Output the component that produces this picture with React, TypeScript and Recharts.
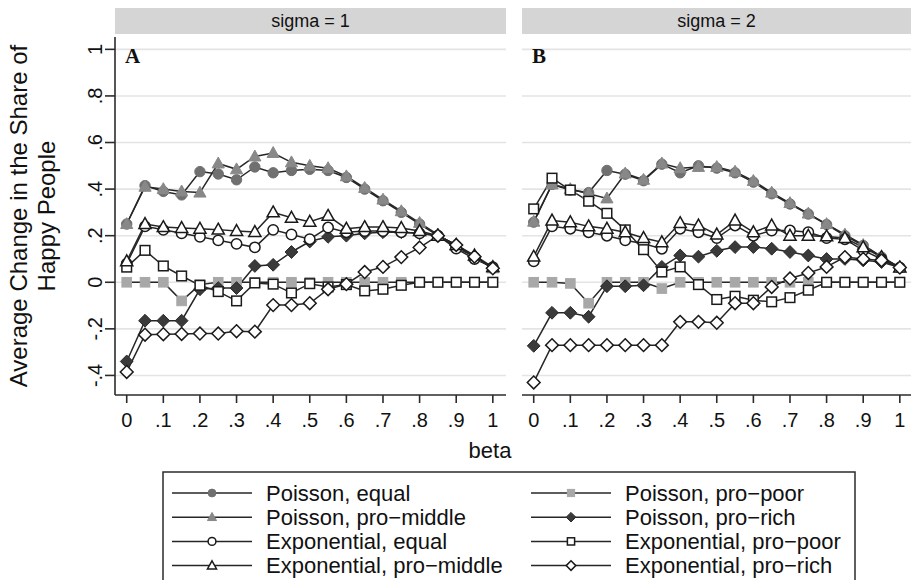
import React from "react";
import {
  LineChart,
  Line,
  XAxis,
  YAxis,
  ReferenceLine,
} from "recharts";

// beta grid, 0 to 1 by .05
const betas = [
  0, 0.05, 0.1, 0.15, 0.2, 0.25, 0.3, 0.35, 0.4, 0.45, 0.5, 0.55, 0.6, 0.65,
  0.7, 0.75, 0.8, 0.85, 0.9, 0.95, 1,
];

const xTicks = [0, 0.1, 0.2, 0.3, 0.4, 0.5, 0.6, 0.7, 0.8, 0.9, 1];
const xTickLabels = ["0", ".1", ".2", ".3", ".4", ".5", ".6", ".7", ".8", ".9", "1"];
const yTicks = [-0.4, -0.2, 0, 0.2, 0.4, 0.6, 0.8, 1];
const yTickLabels = ["-.4", "-.2", "0", ".2", ".4", ".6", ".8", "1"];

// sigma = 1
const poisEqual1 = [0.25, 0.415, 0.39, 0.375, 0.475, 0.465, 0.44, 0.495, 0.47, 0.48, 0.485, 0.48, 0.45, 0.4, 0.35, 0.3, 0.25, 0.2, 0.15, 0.11, 0.06];
const poisPoor1 = [0, 0, 0, -0.08, -0.01, 0, 0, 0, 0, 0, 0, 0, 0, 0, 0, 0, 0, 0, 0, 0, 0];
const poisMid1 = [0.25, 0.41, 0.4, 0.39, 0.385, 0.51, 0.485, 0.54, 0.555, 0.515, 0.5, 0.49, 0.455, 0.405, 0.355, 0.305, 0.255, 0.205, 0.155, 0.11, 0.06];
const poisRich1 = [-0.34, -0.165, -0.165, -0.165, -0.03, -0.025, -0.025, 0.07, 0.075, 0.13, 0.175, 0.195, 0.2, 0.21, 0.215, 0.215, 0.21, 0.2, 0.16, 0.11, 0.06];
const expEqual1 = [0.08, 0.24, 0.225, 0.21, 0.195, 0.18, 0.165, 0.15, 0.225, 0.205, 0.185, 0.235, 0.215, 0.22, 0.22, 0.215, 0.21, 0.2, 0.145, 0.1, 0.065];
const expPoor1 = [0.065, 0.137, 0.07, 0.027, -0.013, -0.04, -0.08, -0.003, -0.008, -0.046, -0.006, -0.02, -0.01, -0.037, -0.03, -0.013, 0, 0, 0, 0, 0];
const expMid1 = [0.09, 0.25, 0.237, 0.233, 0.23, 0.226, 0.22, 0.216, 0.3, 0.277, 0.26, 0.285, 0.23, 0.237, 0.237, 0.233, 0.22, 0.2, 0.16, 0.115, 0.065];
const expRich1 = [-0.385, -0.225, -0.223, -0.222, -0.22, -0.22, -0.21, -0.212, -0.098, -0.098, -0.09, -0.03, -0.008, 0.044, 0.066, 0.108, 0.149, 0.2, 0.16, 0.11, 0.06];

// sigma = 2
const poisEqual2 = [0.258, 0.42, 0.396, 0.385, 0.48, 0.464, 0.436, 0.507, 0.47, 0.5, 0.49, 0.47, 0.43, 0.38, 0.336, 0.293, 0.248, 0.2, 0.158, 0.108, 0.063];
const poisPoor2 = [0, 0, -0.005, -0.09, 0, 0, 0, -0.027, 0, 0, 0, 0, 0, 0, 0, 0, 0, 0, 0, 0, 0];
const poisMid2 = [0.26, 0.42, 0.4, 0.38, 0.36, 0.467, 0.44, 0.51, 0.49, 0.495, 0.495, 0.475, 0.435, 0.385, 0.34, 0.295, 0.25, 0.205, 0.16, 0.11, 0.063];
const poisRich2 = [-0.273, -0.131, -0.131, -0.148, -0.017, -0.017, -0.013, 0.066, 0.115, 0.11, 0.135, 0.151, 0.151, 0.144, 0.13, 0.115, 0.1, 0.1, 0.094, 0.087, 0.063];
const expEqual2 = [0.09, 0.24, 0.23, 0.215, 0.2, 0.18, 0.165, 0.144, 0.23, 0.215, 0.19, 0.244, 0.2, 0.222, 0.222, 0.215, 0.19, 0.185, 0.137, 0.1, 0.063];
const expPoor2 = [0.315, 0.447, 0.396, 0.348, 0.296, 0.225, 0.14, 0.044, 0.066, -0.01, -0.074, -0.06, -0.077, -0.084, -0.066, -0.034, 0, 0, 0, 0, 0];
const expMid2 = [0.11, 0.265, 0.258, 0.24, 0.23, 0.215, 0.19, 0.172, 0.254, 0.244, 0.205, 0.265, 0.215, 0.244, 0.2, 0.2, 0.197, 0.19, 0.15, 0.108, 0.063];
const expRich2 = [-0.43, -0.27, -0.27, -0.27, -0.27, -0.27, -0.27, -0.27, -0.17, -0.17, -0.174, -0.09, -0.09, -0.02, 0.016, 0.04, 0.066, 0.108, 0.1, 0.094, 0.063];

type Shape = "circle" | "triangle" | "square" | "diamond";

const series: { key: string; name: string; shape: Shape; fill: string }[] = [
  { key: "pe", name: "Poisson, equal", shape: "circle", fill: "#707070" },
  { key: "pp", name: "Poisson, pro-poor", shape: "square", fill: "#a8a8a8" },
  { key: "pm", name: "Poisson, pro-middle", shape: "triangle", fill: "#888888" },
  { key: "pr", name: "Poisson, pro-rich", shape: "diamond", fill: "#3a3a3a" },
  { key: "ee", name: "Exponential, equal", shape: "circle", fill: "#ffffff" },
  { key: "ep", name: "Exponential, pro-poor", shape: "square", fill: "#ffffff" },
  { key: "em", name: "Exponential, pro-middle", shape: "triangle", fill: "#ffffff" },
  { key: "er", name: "Exponential, pro-rich", shape: "diamond", fill: "#ffffff" },
];

const buildRows = (cols: Record<string, number[]>) =>
  betas.map((b, i) => {
    const row: Record<string, number> = { beta: b };
    Object.keys(cols).forEach((k) => (row[k] = cols[k][i]));
    return row;
  });

const data1 = buildRows({
  pe: poisEqual1, pp: poisPoor1, pm: poisMid1, pr: poisRich1,
  ee: expEqual1, ep: expPoor1, em: expMid1, er: expRich1,
});
const data2 = buildRows({
  pe: poisEqual2, pp: poisPoor2, pm: poisMid2, pr: poisRich2,
  ee: expEqual2, ep: expPoor2, em: expMid2, er: expRich2,
});

const FONT = "'Liberation Sans', Arial, sans-serif";
const INK = "#2b2b2b";

function Marker({ cx, cy, shape, fill, scale = 1 }: any) {
  if (cx == null || cy == null) return null;
  const open = fill === "#ffffff";
  const sw = open ? 1.5 : 1;
  const stroke = open ? "#1a1a1a" : fill === "#3a3a3a" ? "#2a2a2a" : fill;
  if (shape === "circle") {
    return <circle cx={cx} cy={cy} r={5.2 * scale} fill={fill} stroke={stroke} strokeWidth={sw} />;
  }
  if (shape === "square") {
    const s = 4.8 * scale;
    return <rect x={cx - s} y={cy - s} width={2 * s} height={2 * s} fill={fill} stroke={stroke} strokeWidth={sw} />;
  }
  if (shape === "triangle") {
    const s = 6.4 * scale;
    return (
      <polygon
        points={`${cx},${cy - s} ${cx + s * 0.95},${cy + s * 0.7} ${cx - s * 0.95},${cy + s * 0.7}`}
        fill={fill}
        stroke={stroke}
        strokeWidth={sw}
      />
    );
  }
  const s = 6.4 * scale;
  return (
    <polygon
      points={`${cx},${cy - s} ${cx + s},${cy} ${cx},${cy + s} ${cx - s},${cy}`}
      fill={fill}
      stroke={stroke}
      strokeWidth={sw}
    />
  );
}

const XTick = ({ x, y, payload }: any) => {
  const i = xTicks.indexOf(payload.value);
  return (
    <text x={x} y={y + 15} textAnchor="middle" dominantBaseline="central" fontSize={20} fontFamily={FONT} fill="#111">
      {xTickLabels[i] ?? ""}
    </text>
  );
};

const YTick = ({ x, y, payload }: any) => {
  const i = yTicks.indexOf(payload.value);
  const lx = x - 8;
  return (
    <text
      x={lx}
      y={y}
      textAnchor="middle"
      dominantBaseline="central"
      fontSize={20}
      fontFamily={FONT}
      fill="#111"
      transform={`rotate(-90, ${lx}, ${y})`}
    >
      {yTickLabels[i] ?? ""}
    </text>
  );
};

const xDomain = [-0.032, 1.036];
const yDomain = [-0.484, 1.053];

function Panel({ data, showY, width, height }: any) {
  return (
    <LineChart
      width={width}
      height={height}
      data={data}
      margin={{ top: 37, right: showY ? 14 : 0, bottom: 0, left: 0 }}
    >
      <XAxis
        dataKey="beta"
        type="number"
        domain={xDomain}
        ticks={xTicks}
        interval={0}
        allowDataOverflow
        height={45}
        tickSize={8}
        tick={<XTick />}
        axisLine={{ stroke: INK, strokeWidth: 1.6 }}
        tickLine={{ stroke: INK, strokeWidth: 1.6 }}
      />
      <YAxis
        type="number"
        domain={yDomain}
        ticks={yTicks}
        interval={0}
        allowDataOverflow
        width={showY ? 115 : 0}
        hide={!showY}
        tickSize={10}
        tick={<YTick />}
        axisLine={{ stroke: INK, strokeWidth: 1.6 }}
        tickLine={{ stroke: INK, strokeWidth: 1.6 }}
      />
      {yTicks.map((t) => (
        <ReferenceLine key={t} y={t} stroke="#e4e4e4" strokeWidth={1.6} ifOverflow="extendDomain" />
      ))}
      {series.map((s) => (
        <Line
          key={s.key}
          dataKey={s.key}
          name={s.name}
          type="linear"
          stroke="#262626"
          strokeWidth={1.5}
          isAnimationActive={false}
          dot={(p: any) => <Marker key={`${s.key}-${p.index}`} cx={p.cx} cy={p.cy} shape={s.shape} fill={s.fill} />}
        />
      ))}
    </LineChart>
  );
}

function Legend() {
  const rows = [
    [series[0], series[1]],
    [series[2], series[3]],
    [series[4], series[5]],
    [series[6], series[7]],
  ];
  return (
    <svg width={911} height={120} style={{ position: "absolute", left: 0, top: 460 }}>
      <rect x={163} y={12} width={692} height={130} fill="#fff" stroke={INK} strokeWidth={1.5} />
      {rows.map((r, ri) => {
        const y = 33 + ri * 24.2;
        return r.map((s, ci) => {
          const x0 = ci === 0 ? 172 : 531;
          return (
            <g key={s.key}>
              <line x1={x0} x2={x0 + 80} y1={y} y2={y} stroke="#262626" strokeWidth={1.5} />
              <Marker cx={x0 + 40} cy={y} shape={s.shape} fill={s.fill} scale={0.75} />
              <text x={x0 + 94} y={y} dominantBaseline="central" fontSize={22} fontFamily={FONT} fill="#111">
                {s.name.replace("-", "\u2212")}
              </text>
            </g>
          );
        });
      })}
    </svg>
  );
}

const stripStyle: React.CSSProperties = {
  position: "absolute",
  top: 8,
  height: 26,
  background: "#d5d5d5",
  fontFamily: FONT,
  fontSize: 18,
  lineHeight: "26px",
  textAlign: "center",
  color: "#111",
};

const panelLetter: React.CSSProperties = {
  position: "absolute",
  top: 44,
  fontFamily: "'Liberation Serif', 'Times New Roman', serif",
  fontWeight: "bold",
  fontSize: 21,
  color: "#111",
};

export default function App() {
  return (
    <div style={{ position: "absolute", left: 0, top: 0, width: 911, height: 580, overflow: "hidden", background: "#fff" }}>
      <div style={{ ...stripStyle, left: 115, width: 391 }}>sigma = 1</div>
      <div style={{ ...stripStyle, left: 522, width: 389 }}>sigma = 2</div>
      <div style={{ position: "absolute", left: 0, top: 0 }}>
        <Panel data={data1} showY width={520} height={440} />
      </div>
      <div style={{ position: "absolute", left: 522, top: 0 }}>
        <Panel data={data2} showY={false} width={391} height={440} />
      </div>
      <div style={{ ...panelLetter, left: 125 }}>A</div>
      <div style={{ ...panelLetter, left: 532 }}>B</div>
      <svg width={70} height={440} style={{ position: "absolute", left: 0, top: 0 }}>
        <text
          x={18}
          y={216}
          textAnchor="middle"
          dominantBaseline="central"
          fontSize={24}
          fontFamily={FONT}
          fill="#111"
          transform="rotate(-90, 18, 216)"
        >
          Average Change in the Share of
        </text>
        <text
          x={46}
          y={216}
          textAnchor="middle"
          dominantBaseline="central"
          fontSize={24}
          fontFamily={FONT}
          fill="#111"
          transform="rotate(-90, 46, 216)"
        >
          Happy People
        </text>
      </svg>
      <div
        style={{
          position: "absolute",
          left: 440,
          width: 100,
          top: 438,
          textAlign: "center",
          fontFamily: FONT,
          fontSize: 22,
          color: "#111",
        }}
      >
        beta
      </div>
      <Legend />
    </div>
  );
}
